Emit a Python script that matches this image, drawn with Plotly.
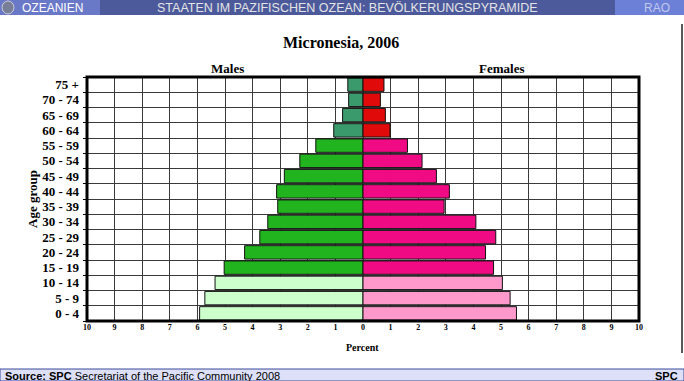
import plotly.graph_objects as go

# ---- data ----
age_groups = ["0 - 4", "5 - 9", "10 - 14", "15 - 19", "20 - 24", "25 - 29", "30 - 34",
              "35 - 39", "40 - 44", "45 - 49", "50 - 54", "55 - 59", "60 - 64",
              "65 - 69", "70 - 74", "75 +"]
males = [5.92, 5.73, 5.36, 5.03, 4.29, 3.74, 3.45, 3.09, 3.13, 2.85, 2.29, 1.71,
         1.06, 0.74, 0.52, 0.55]
females = [5.56, 5.33, 5.05, 4.73, 4.44, 4.81, 4.09, 2.94, 3.13, 2.66, 2.14, 1.61,
           0.98, 0.81, 0.63, 0.76]
x_ticks = list(range(-10, 11))

# colour by life stage: 0-14 young, 15-59 working, 60+ old
def stage(i):
    return "young" if i < 3 else ("work" if i < 12 else "old")

male_colors = {"young": "#ccffcc", "work": "#22b41e", "old": "#3a9a6c"}
female_colors = {"young": "#ff99cc", "work": "#f00a84", "old": "#e00a0a"}

L, R, T, B = 87, 639, 77, 321
W, H = R - L, B - T


def px(x):
    return (x - L) / W


def py(y):
    return (B - y) / H


ypos = list(range(len(age_groups)))

fig = go.Figure()
fig.add_trace(go.Bar(
    y=ypos, x=[-v for v in males], orientation="h", width=0.88,
    marker=dict(color=[male_colors[stage(i)] for i in ypos],
                line=dict(color="#111111", width=1)),
    name="Males", showlegend=False, hoverinfo="skip"))
fig.add_trace(go.Bar(
    y=ypos, x=females, orientation="h", width=0.88,
    marker=dict(color=[female_colors[stage(i)] for i in ypos],
                line=dict(color="#111111", width=1)),
    name="Females", showlegend=False, hoverinfo="skip"))

serif = "Liberation Serif, Times New Roman, serif"
sans = "Liberation Sans, Arial, sans-serif"

fig.update_layout(
    width=684, height=381,
    margin=dict(l=L, r=684 - R, t=T, b=381 - B, pad=0),
    paper_bgcolor="white", plot_bgcolor="white",
    barmode="overlay",
    xaxis=dict(range=[-10, 10], tickmode="array", tickvals=x_ticks,
               ticktext=["<b>%d</b>" % abs(v) for v in x_ticks],
               tickfont=dict(family=serif, size=8, color="black"),
               showgrid=True, gridcolor="#3a3a3a", gridwidth=1,
               zeroline=False, showline=False, ticks="", fixedrange=True),
    yaxis=dict(range=[-0.5, len(age_groups) - 0.5], tickmode="array", tickvals=ypos,
               ticktext=["<b>%s</b>" % a for a in age_groups],
               tickfont=dict(family=serif, size=13, color="black"),
               showgrid=False, zeroline=False, showline=False, ticks="",
               ticklabelstandoff=7,
               minor=dict(tickmode="array",
                          tickvals=[i + 0.5 for i in range(-1, len(age_groups))],
                          ticks="outside", ticklen=3, tickcolor="black",
                          showgrid=True, gridcolor="#3a3a3a", gridwidth=1)),
)

shapes = []
# plot border
shapes.append(dict(type="rect", xref="paper", yref="paper", x0=0, x1=1, y0=0, y1=1,
                   line=dict(color="black", width=3), fillcolor="rgba(0,0,0,0)"))
# header bar
shapes.append(dict(type="rect", xref="paper", yref="paper", x0=px(0), x1=px(684),
                   y0=py(15), y1=py(0), line=dict(width=0), fillcolor="#4c5a9c", layer="above"))
shapes.append(dict(type="rect", xref="paper", yref="paper", x0=px(0), x1=px(100),
                   y0=py(15), y1=py(0), line=dict(width=0), fillcolor="#6a78c8", layer="above"))
shapes.append(dict(type="rect", xref="paper", yref="paper", x0=px(615), x1=px(684),
                   y0=py(15), y1=py(0), line=dict(width=0), fillcolor="#6c80d8", layer="above"))
shapes.append(dict(type="circle", xref="paper", yref="paper", x0=px(2), x1=px(14),
                   y0=py(14), y1=py(1), line=dict(color="#ccd", width=1),
                   fillcolor="#7a7f99", layer="above"))
# footer
shapes.append(dict(type="rect", xref="paper", yref="paper", x0=px(0), x1=px(684),
                   y0=py(381), y1=py(369), line=dict(color="#3a4a9a", width=1),
                   fillcolor="#dde0f8", layer="above"))
# right page edge line
shapes.append(dict(type="line", xref="paper", yref="paper", x0=px(682), x1=px(682),
                   y0=py(353), y1=py(24), line=dict(color="#222222", width=1.5)))
fig.update_layout(shapes=shapes)

def ann(text, x, y, size, family=serif, color="black", xanchor="center", textangle=0):
    fig.add_annotation(text=text, xref="paper", yref="paper", x=px(x), y=py(y),
                       xanchor=xanchor, yanchor="middle", showarrow=False,
                       textangle=textangle,
                       font=dict(family=family, size=size, color=color))

ann("<b>Micronesia, 2006</b>", 341, 43, 16)
ann("<b>Males</b>", 227, 69, 13)
ann("<b>Females</b>", 501, 69, 13)
ann("<b>Age group</b>", 32, 199, 13, textangle=-90)
ann("<b>Percent</b>", 362, 347, 10)
ann("OZEANIEN", 20, 7.5, 12, family=sans, color="white", xanchor="left")
ann("STAATEN IM PAZIFISCHEN OZEAN: BEVÖLKERUNGSPYRAMIDE", 347, 7.5, 12.5,
    family=sans, color="#e4e4e4")
ann("RAO", 672, 7.5, 12, family=sans, color="#c0c8ee", xanchor="right")
ann("<b>Source: SPC</b> Secretariat of the Pacific Community 2008", 3, 375.5, 11,
    family=sans, xanchor="left")
ann("<b>SPC</b>", 680, 375.5, 11, family=sans, xanchor="right")

fig.write_html("out.html", config={"displayModeBar": False},
               post_script="document.body.style.margin='0';document.body.style.overflow='hidden';")
